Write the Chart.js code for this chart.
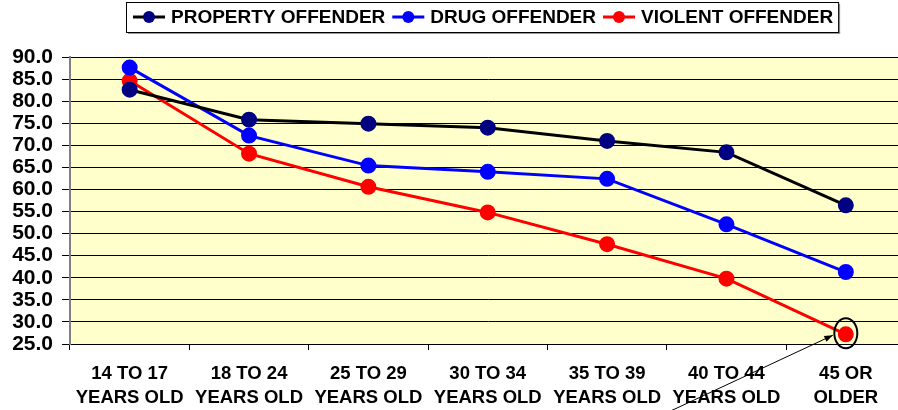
<!DOCTYPE html>
<html>
<head>
<meta charset="utf-8">
<script src="https://cdn.jsdelivr.net/npm/chart.js@4.4.1/dist/chart.umd.min.js"></script>
<style>
  html, body { margin: 0; padding: 0; background: #ffffff; overflow: hidden; }
  #wrap { width: 915px; height: 410px; }
</style>
</head>
<body>
<div id="wrap"><canvas id="chart" width="915" height="410"></canvas></div>
<script>
// age groups along the bottom
var categories = [
    ['14 TO 17', 'YEARS OLD'],
    ['18 TO 24', 'YEARS OLD'],
    ['25 TO 29', 'YEARS OLD'],
    ['30 TO 34', 'YEARS OLD'],
    ['35 TO 39', 'YEARS OLD'],
    ['40 TO 44', 'YEARS OLD'],
    ['45 OR', 'OLDER']
];
var seriesNames = ['PROPERTY OFFENDER', 'DRUG OFFENDER', 'VIOLENT OFFENDER'];
var propertyValues = [82.6, 75.8, 74.9, 74.0, 71.0, 68.4, 56.4];
var drugValues = [87.6, 72.2, 65.4, 64.0, 62.4, 52.1, 41.3];
var violentValues = [84.6, 68.1, 60.6, 54.8, 47.6, 39.8, 27.2];
var yMin = 25, yMax = 90, yStep = 5;

var lineColors = ['#000000', '#0000ff', '#ff0000'];
var pointColors = ['#000080', '#0000ff', '#ff0000'];

var FONT = '"Liberation Sans", Arial, sans-serif';
Chart.defaults.font.family = FONT;
Chart.defaults.color = '#000000';

// fond jaune de la zone de tracé
var plotBackground = {
    id: 'plotBackground',
    beforeDraw: function (chart) {
        var a = chart.chartArea, ctx = chart.ctx;
        ctx.save();
        ctx.fillStyle = '#ffffcc';
        ctx.fillRect(a.left, a.top, a.right - a.left, a.bottom - a.top);
        ctx.restore();
    }
};

// légende encadrée en haut
var boxedLegend = {
    id: 'boxedLegend',
    afterDraw: function (chart) {
        var ctx = chart.ctx;
        ctx.save();
        ctx.font = 'bold 19px ' + FONT;
        ctx.textBaseline = 'middle';
        var x = 133, y = 17;
        var startX = 126;
        seriesNames.forEach(function (name, i) {
            ctx.strokeStyle = lineColors[i];
            ctx.lineWidth = 3;
            ctx.beginPath();
            ctx.moveTo(x, y);
            ctx.lineTo(x + 32, y);
            ctx.stroke();
            ctx.fillStyle = pointColors[i];
            ctx.beginPath();
            ctx.arc(x + 16, y, 6, 0, Math.PI * 2);
            ctx.fill();
            ctx.fillStyle = '#000000';
            ctx.fillText(name, x + 38, y + 1);
            x = x + 38 + ctx.measureText(name).width + 7;
        });
        var endX = x - 2;
        ctx.fillStyle = '#9a9a9a';
        ctx.fillRect(startX + 2, 32, endX - startX, 2);
        ctx.fillRect(endX, 4, 2, 29);
        ctx.strokeStyle = '#000000';
        ctx.lineWidth = 1;
        ctx.strokeRect(startX + 0.5, 2.5, endX - startX, 30);
        ctx.restore();
    }
};

// cercle et flèche sur le dernier point violent
var callout = {
    id: 'callout',
    afterDatasetsDraw: function (chart) {
        var meta = chart.getDatasetMeta(2);
        var pt = meta.data[meta.data.length - 1];
        if (!pt) return;
        var ctx = chart.ctx;
        ctx.save();
        ctx.strokeStyle = '#000000';
        ctx.lineWidth = 2;
        ctx.beginPath();
        ctx.ellipse(pt.x, pt.y - 1, 11.5, 15, 0, 0, Math.PI * 2);
        ctx.stroke();
        var tipX = pt.x - 13, tipY = pt.y + 1;
        var tailX = pt.x - 178, tailY = pt.y + 78;
        ctx.lineWidth = 1;
        ctx.beginPath();
        ctx.moveTo(tailX, tailY);
        ctx.lineTo(tipX, tipY);
        ctx.stroke();
        var ang = Math.atan2(tipY - tailY, tipX - tailX);
        ctx.fillStyle = '#000000';
        ctx.beginPath();
        ctx.moveTo(tipX, tipY);
        ctx.lineTo(tipX - 9 * Math.cos(ang - 0.35), tipY - 9 * Math.sin(ang - 0.35));
        ctx.lineTo(tipX - 9 * Math.cos(ang + 0.35), tipY - 9 * Math.sin(ang + 0.35));
        ctx.closePath();
        ctx.fill();
        ctx.restore();
    }
};

var allValues = [propertyValues, drugValues, violentValues];
var datasets = seriesNames.map(function (name, i) {
    return {
        label: name,
        data: allValues[i],
        borderColor: lineColors[i],
        backgroundColor: pointColors[i],
        pointBackgroundColor: pointColors[i],
        pointBorderColor: pointColors[i],
        borderWidth: 3,
        pointRadius: 6.5,
        pointHoverRadius: 6.5,
        tension: 0,
        fill: false
    };
});

new Chart(document.getElementById('chart'), {
    type: 'line',
    data: { labels: categories, datasets: datasets },
    options: {
        responsive: false,
        animation: false,
        layout: { padding: { top: 57, right: 1, left: 0, bottom: 0 } },
        plugins: {
            legend: { display: false },
            tooltip: { enabled: false }
        },
        scales: {
            x: {
                offset: true,
                grid: {
                    offset: true,
                    drawOnChartArea: false,
                    drawTicks: true,
                    tickLength: 6,
                    color: '#000000'
                },
                border: { color: '#000000', width: 1 },
                ticks: {
                    padding: 12,
                    maxRotation: 0,
                    autoSkip: false,
                    color: '#000000',
                    font: { size: 18.5, weight: 'bold', lineHeight: 1.3 }
                },
                afterFit: function (scale) { scale.height = 66; }
            },
            y: {
                min: yMin,
                max: yMax,
                grid: { color: '#000000', lineWidth: 1, tickLength: 8 },
                border: { color: '#808080', width: 2 },
                ticks: {
                    stepSize: yStep,
                    autoSkip: false,
                    padding: 9,
                    color: '#000000',
                    font: { size: 21, weight: 'bold' },
                    callback: function (v) { return v.toFixed(1); }
                },
                afterFit: function (scale) { scale.width = 70; }
            }
        }
    },
    plugins: [plotBackground, boxedLegend, callout]
});
</script>
</body>
</html>
